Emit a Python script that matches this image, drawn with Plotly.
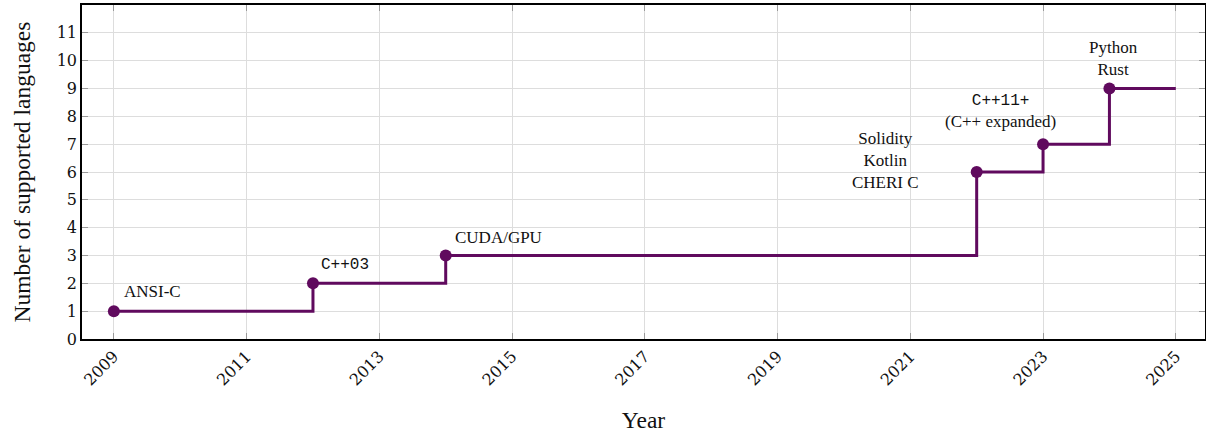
import plotly.graph_objects as go

years = [2009, 2012, 2014, 2022, 2023, 2024]
counts = [1, 2, 3, 6, 7, 9]
end_year = 2025
labels = ["ANSI-C", "<span style='font-family:Liberation Mono;font-size:16px'>C++03</span>", "CUDA/GPU",
          "Solidity<br>Kotlin<br>CHERI C",
          "<span style='font-family:Liberation Mono;font-size:16px'>C++11+</span><br>(C++ expanded)",
          "Python<br>Rust"]
x_ticks = list(range(2009, 2026, 2))
y_ticks = list(range(0, 12))

color = "#600A5E"
serif = "Liberation Serif, Times New Roman, serif"

fig = go.Figure()
fig.add_trace(go.Scatter(x=years + [end_year], y=counts + [counts[-1]], mode="lines",
                         line=dict(color=color, width=3, shape="hv"), hoverinfo="skip"))
fig.add_trace(go.Scatter(x=years, y=counts, mode="markers",
                         marker=dict(color=color, size=12)))

# annotation offsets (pixels)
offs = [(8, -20, "left"), (6, -18, "left"), (7, -18, "left"),
        (-91, -12, "center"), (-43, -33, "center"), (4, -30, "center")]
for x, y, t, (ax, ay, al) in zip(years, counts, labels, offs):
    fig.add_annotation(x=x, y=y, text=t, showarrow=True, arrowcolor="rgba(0,0,0,0)",
                       ax=ax, ay=ay, xanchor=al,
                       align="center", font=dict(family=serif, size=17, color="#111"))

fig.update_layout(
    width=1206, height=433, margin=dict(l=82, r=1, t=5, b=94),
    plot_bgcolor="white", paper_bgcolor="white", showlegend=False,
    font=dict(family=serif, color="#111"),
    xaxis=dict(range=[2008.52, 2025.44], tickvals=x_ticks, ticktext=[str(v) for v in x_ticks],
               tickangle=-45, showgrid=True, gridcolor="#dddddd", gridwidth=1, automargin=False,
               showline=True, linecolor="black", linewidth=1.5, mirror="ticks",
               ticks="inside", ticklen=6, tickcolor="#999", zeroline=False,
               tickfont=dict(family="DejaVu Serif", size=16),
               title=dict(text="Year", font=dict(family=serif, size=23.5), standoff=26)),
    yaxis=dict(range=[0, 12], tickvals=y_ticks, showgrid=True, gridcolor="#dddddd", automargin=False,
               showline=True, linecolor="black", linewidth=1.5, mirror="ticks",
               ticks="inside", ticklen=6, tickcolor="#999", zeroline=False,
               tickfont=dict(family="DejaVu Serif", size=16),
               title=dict(text="Number of supported languages", font=dict(family=serif, size=23.5), standoff=19)),
)

fig.write_html("out.html", config={"displayModeBar": False},
               post_script="document.body.style.margin='0';document.body.style.overflow='hidden';")
